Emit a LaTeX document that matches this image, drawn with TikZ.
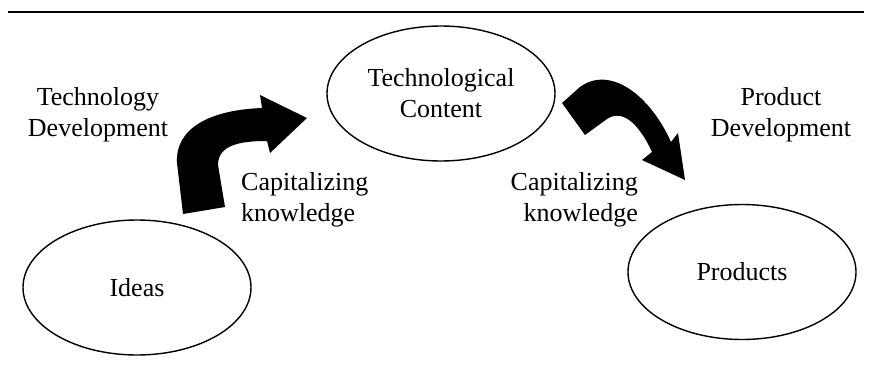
\documentclass[tikz,border=0pt]{standalone}
\usepackage{fontspec}
\setmainfont{Liberation Serif}
\usetikzlibrary{shapes.geometric}

\begin{document}
\begin{tikzpicture}[x=1pt,y=-1pt,
  blob/.style={draw,ellipse,line width=1.4pt,minimum width=228pt,minimum height=135pt,inner sep=0pt,align=center},
  lbl/.style={inner sep=0pt},
  blockarrow/.style={fill=black},
  font=\fontsize{26}{31}\selectfont]
\useasboundingbox (0,0) rectangle (884,381);
\draw[line width=1.6pt] (8,12) -- (864,12);
% the three stages
\node[blob] (tc) at (441,93.5) {Technological\\Content};
\node[blob] (id) at (137,287.5) {Ideas};
\node[blob] (pr) at (742,272) {Products};
% side texts
\node[lbl,align=center] (td) at (98,115) {Technology\\Development};
\node[lbl,align=center] (pd) at (781,115) {Product\\Development};
\node[lbl,align=left,anchor=west] (ck1) at (241,200) {Capitalizing\\knowledge};
\node[lbl,align=right,anchor=east] (ck2) at (638,200) {Capitalizing\\knowledge};
% bent block arrows
\fill[blockarrow] (183,214) -- (177,163) .. controls (175,128) and (210,110) .. (262,108)
  -- (260,95) -- (307,118) -- (270,153) -- (267,141)
  .. controls (240,141) and (218,145) .. (218,165) -- (225,207) -- cycle;
\fill[blockarrow] (562,103) -- (585,135) -- (607,119) .. controls (625,107) and (642,130) .. (652,152)
  -- (642,160) -- (685,180) -- (678,133) -- (671,142)
  .. controls (650,95) and (610,65) .. (580,87) -- cycle;
\end{tikzpicture}
\end{document}
